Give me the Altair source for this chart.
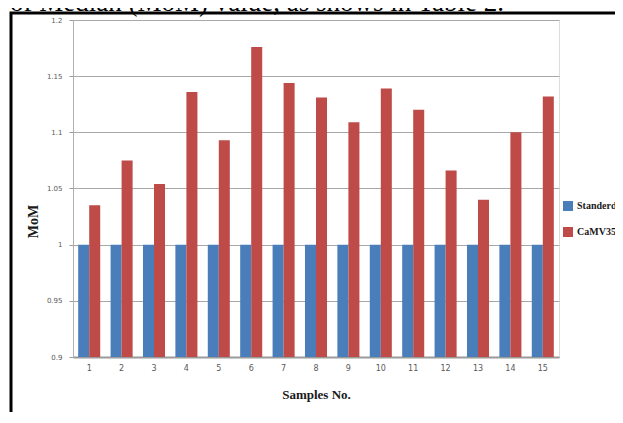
import altair as alt
import pandas as pd

samples = [str(i) for i in range(1, 16)]
standard = [1, 1, 1, 1, 1, 1, 1, 1, 1, 1, 1, 1, 1, 1, 1]
camv35s = [1.035, 1.075, 1.054, 1.136, 1.093, 1.176, 1.144, 1.131, 1.109,
           1.139, 1.120, 1.066, 1.040, 1.100, 1.132]
series_names = ["Standerd", "CaMV35S"]
series_colors = ["#4a7ebb", "#be4b48"]
y_ticks = [0.9, 0.95, 1, 1.05, 1.1, 1.15, 1.2]
top_text = ["of Median (MoM) value, as shows in Table 2."]

rows = []
for s, a, b in zip(samples, standard, camv35s):
    rows.append({"sample": s, "series": series_names[0], "value": a})
    rows.append({"sample": s, "series": series_names[1], "value": b})
df = pd.DataFrame(rows)

W, H = 486, 337

bars = alt.Chart(df).mark_bar(clip=True).encode(
    x=alt.X("sample:N", sort=samples,
            scale=alt.Scale(paddingInner=0.32, paddingOuter=0.16),
            axis=alt.Axis(title="Samples No.", labelAngle=0, labelFontSize=8,
                          labelColor="#595959", labelFont="DejaVu Sans",
                          labelPadding=7, ticks=False, domainColor="#9a9a9a",
                          domainWidth=2, titleFont="Liberation Serif",
                          titleFontSize=13, titleFontWeight="bold",
                          titleColor="#1a1a1a", titlePadding=16)),
    xOffset=alt.XOffset("series:N", sort=series_names),
    y=alt.Y("value:Q", scale=alt.Scale(domain=[0.9, 1.2], nice=False, zero=False),
            axis=alt.Axis(title="MoM", values=y_ticks, format=".2~f",
                          labelFontSize=7, labelColor="#595959",
                          labelFont="DejaVu Sans", tickSize=4,
                          tickColor="#9a9a9a", labelPadding=7,
                          domainColor="#b0b0b0", gridColor="#a8a8a8",
                          titleFont="Liberation Serif", titleFontSize=14,
                          titleFontWeight="bold", titleColor="#1a1a1a",
                          titleX=-40, titleY=201, titleAngle=270,
                          titleAlign="center", titleBaseline="middle")),
    color=alt.Color("series:N", sort=series_names,
                    scale=alt.Scale(domain=series_names, range=series_colors),
                    legend=alt.Legend(title=None, orient="none", legendX=W + 4,
                                      legendY=181, symbolType="square",
                                      symbolSize=100, symbolStrokeWidth=0,
                                      labelFont="Liberation Serif",
                                      labelFontSize=10, labelFontWeight="bold",
                                      labelColor="#1a1a1a", rowPadding=16,
                                      symbolOffset=0, labelLimit=200)),
)

txt = alt.Chart(pd.DataFrame({"t": top_text})).mark_text(
    font="Liberation Serif", fontSize=27, align="left", baseline="alphabetic",
    color="#000000"
).encode(x=alt.value(-63), y=alt.value(-9), text="t:N")

border = alt.Chart(pd.DataFrame({"t": top_text})).mark_rect(
    filled=False, stroke="#000000", strokeWidth=3
).encode(x=alt.value(-62), x2=alt.value(W + 200), y=alt.value(-7),
         y2=alt.value(H + 200))

chart = alt.layer(bars, txt, border).properties(
    width=W, height=H,
    autosize=alt.AutoSizeParams(type="none"),
    padding={"left": 65, "top": 12, "right": 56, "bottom": 55},
).configure_view(fill="#e5e5e5", stroke="#bcbcbc", strokeWidth=1.5
).configure(background="#ffffff")

chart.save("out.html", embed_options={"renderer": "svg", "actions": False})
